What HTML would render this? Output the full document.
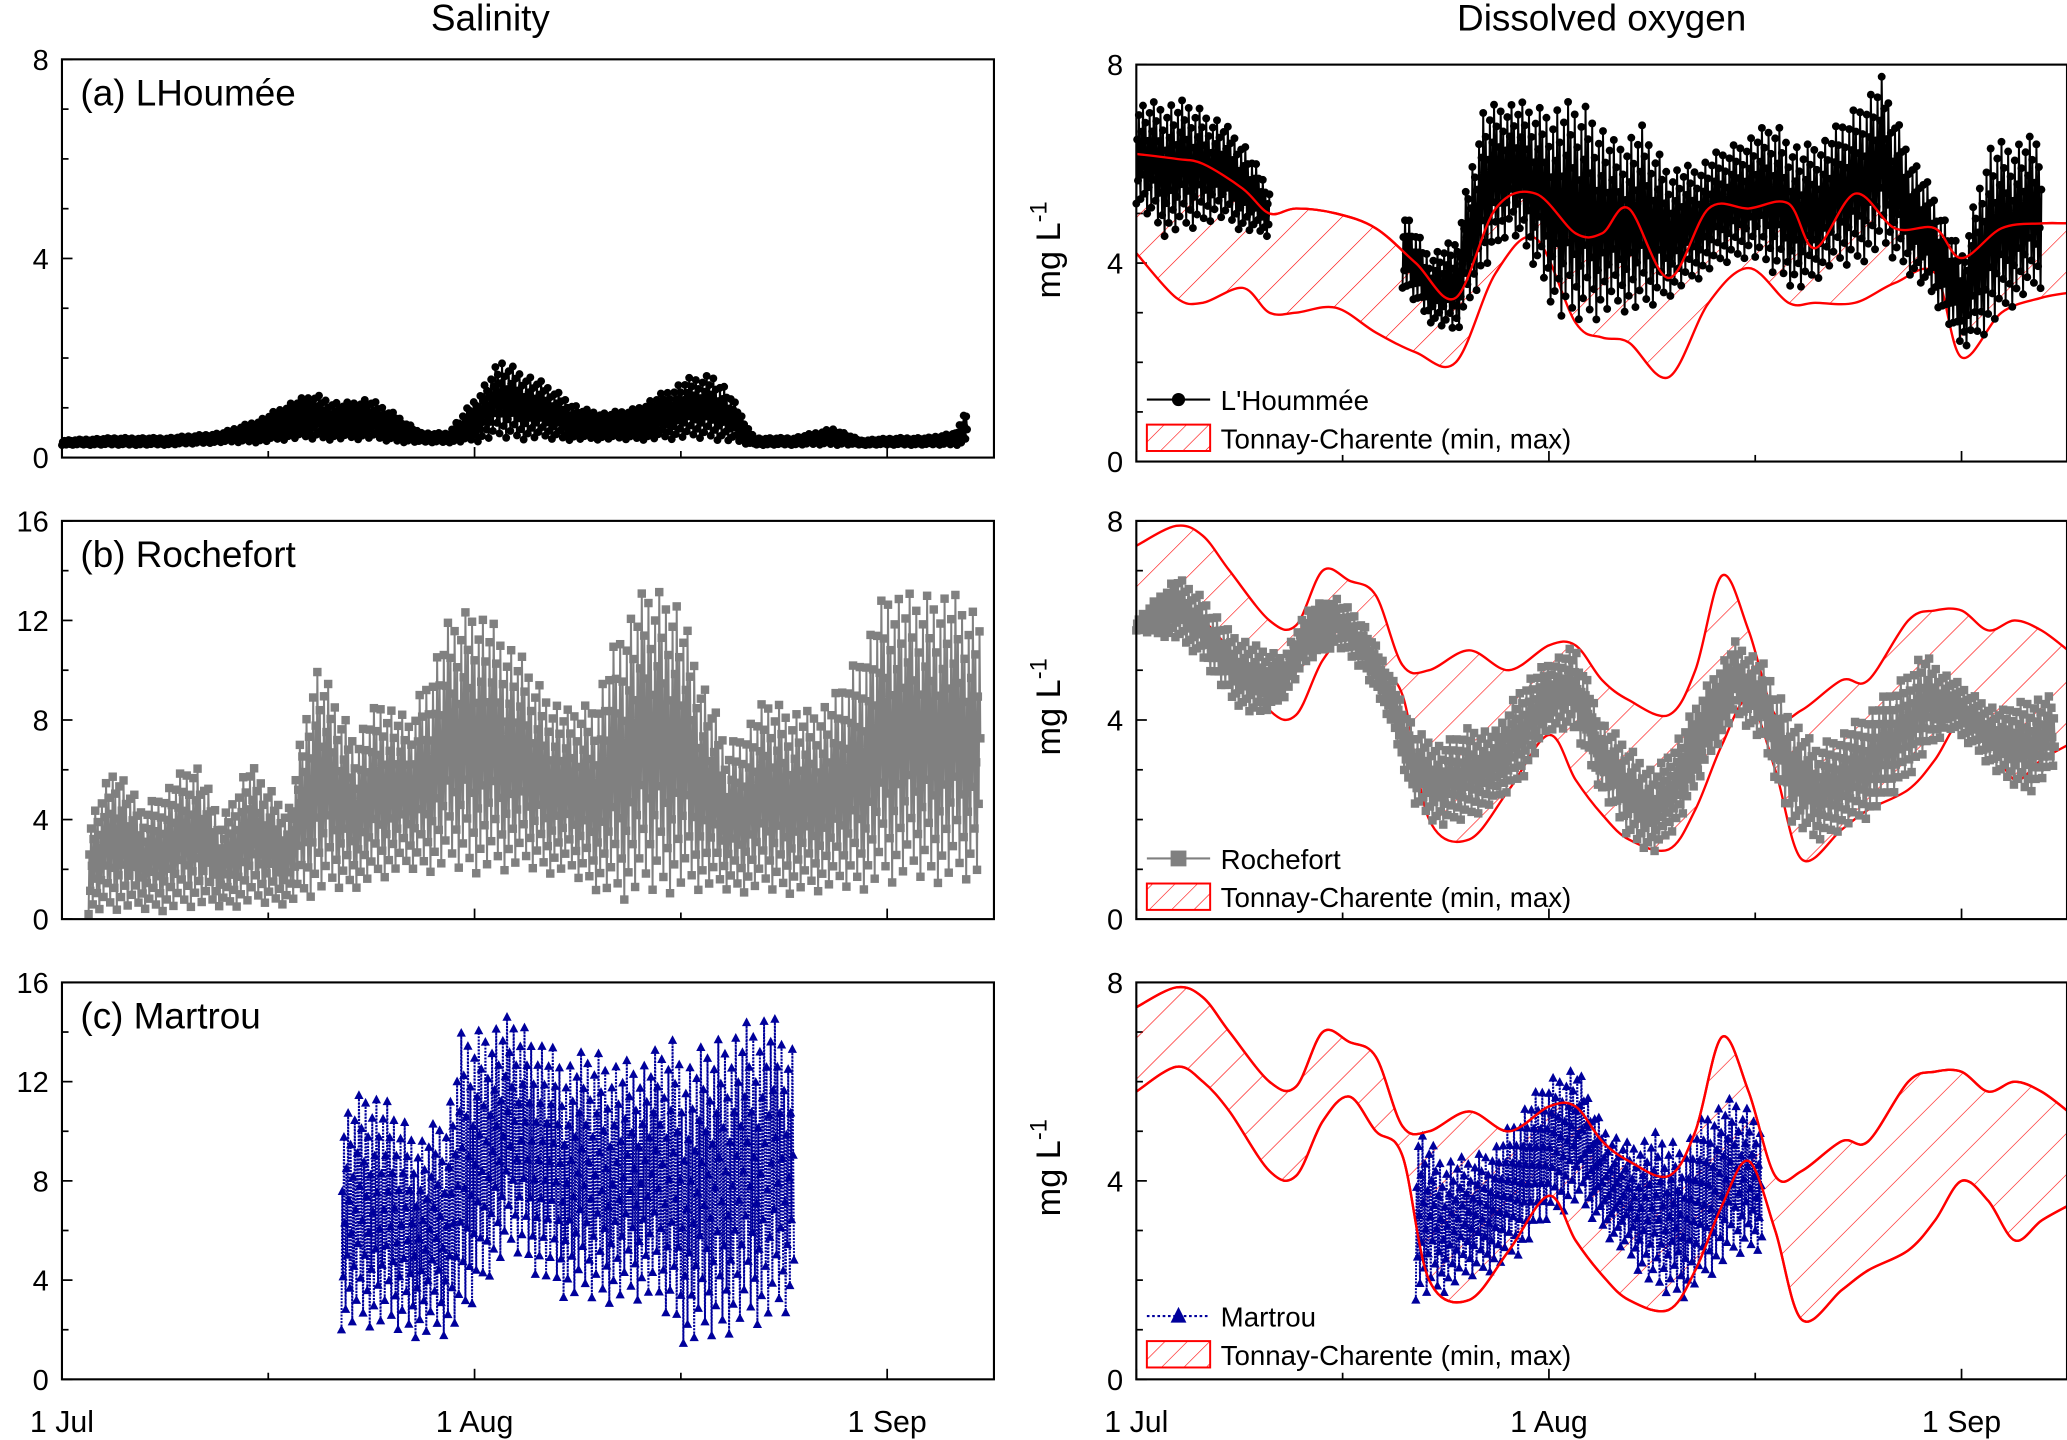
<!DOCTYPE html>
<html><head><meta charset="utf-8"><style>
html,body{margin:0;padding:0;background:#fff;}
svg{display:block;font-family:"Liberation Sans",Arial,sans-serif;}
</style></head><body>
<svg id="fig" width="2067" height="1440" viewBox="0 0 1568 1092" preserveAspectRatio="none" xmlns="http://www.w3.org/2000/svg">
<defs>
<pattern id="hatch" patternUnits="userSpaceOnUse" width="22" height="22" patternTransform="rotate(45)">
<line x1="0" y1="0" x2="0" y2="22" stroke="#ff0000" stroke-width="0.9"/>
</pattern>
<pattern id="hatchL" patternUnits="userSpaceOnUse" width="12" height="12" patternTransform="rotate(45)">
<line x1="0" y1="0" x2="0" y2="12" stroke="#ff0000" stroke-width="0.9"/>
</pattern>
</defs>
<text x="372" y="23" font-size="28" text-anchor="middle">Salinity</text>
<text x="1215" y="23" font-size="28" text-anchor="middle">Dissolved oxygen</text>
<g id="plots"></g>
</svg>
<script>
// ---- data (day index from 1 Jul) ----
const xTickLabels = ["1 Jul", "1 Aug", "1 Sep"];
const xTickDays = [0, 31, 62];
const salTicksA = [0, 4, 8];
const salTicksBC = [0, 4, 8, 12, 16];
const doTicks = [0, 4, 8];

const salA_days = [0,4,8,12,15,17,19,21,23,25,27,29,31,33,35,37,39,41,43,45,47,49,50,52,55,58,60,63,65,67,68];
const salA_max  = [0.35,0.4,0.4,0.5,0.8,1.1,1.3,1.1,1.2,0.9,0.5,0.5,1.2,2.0,1.7,1.4,1.0,0.9,1.0,1.3,1.6,1.7,1.4,0.4,0.4,0.6,0.35,0.4,0.4,0.5,1.0];
const salA_min  = [0.25,0.25,0.25,0.3,0.3,0.35,0.35,0.35,0.35,0.3,0.3,0.3,0.3,0.35,0.35,0.35,0.35,0.35,0.35,0.35,0.35,0.35,0.3,0.25,0.25,0.25,0.25,0.25,0.25,0.25,0.25];

const salB_days = [2,4,6,8,10,12,14,17,19,22,24,26,29,31,34,36,38,40,42,44,46,48,50,53,56,58,60,62,64,66,69];
const salB_max  = [4,6.4,4.5,5.5,6.5,4,6.4,4.5,10.5,7.5,9,8,12,13,11,9.5,8.5,9,12,13.5,13.5,10,7,9,8.5,9,11,13.5,13,13.5,12.5];
const salB_min  = [0.2,0.3,0.3,0.3,0.4,0.4,0.5,0.6,0.8,1.2,1.5,1.8,1.8,1.8,1.8,1.8,1.7,1.2,0.6,0.8,1.0,1.0,1.0,1.0,1.0,1.0,1.1,1.2,1.3,1.3,1.3];

const salC_days = [21,23,25,27,29,30,32,34,36,38,40,42,44,46,47,49,51,53,55];
const salC_max  = [11,12,11,10,11,14,14.5,14.8,14,13,13.5,13,13,14,13,14,14.5,15,13.5];
const salC_min  = [2,2,1.8,1.6,1.6,1.8,4,5,4,3,3,3,3,2,1,1.5,2,2,2.5];

const doA_days = [0,2,4,6,8,10,20,22,24,26,28,30,32,34,36,38,40,42,44,46,48,50,52,54,56,58,60,62,64,66,68];
const doA_max  = [7.3,7.3,7.3,7,6.5,5.5,5.2,4.2,4.5,7.2,7.3,7.2,7.3,7.3,6.5,6.8,6,6,6.3,6.6,6.9,6.4,6.6,7.2,7.8,6.4,5.4,4.2,6.5,6.5,6.6];
const doA_min  = [5.2,4.5,4.6,4.9,4.6,4.5,3.5,2.8,2.5,3.7,4.6,3.8,2.7,2.8,3.0,2.9,3.3,3.6,3.9,4.1,3.7,3.4,3.8,3.9,4.2,3.8,3.2,2.2,2.6,3.1,3.4];
const tcA_days = [0,3,5,8,10,12,15,18,21,24,27,30,33,35,37,40,43,46,49,51,54,57,60,62,65,68,70];
const tcA_max  = [6.2,6.1,6.0,5.5,5.0,5.1,5.0,4.7,4.0,3.3,5.1,5.4,4.6,4.6,5.1,3.7,5.1,5.1,5.2,4.3,5.4,4.7,4.7,4.1,4.7,4.8,4.8];
const tcA_min  = [4.2,3.3,3.2,3.5,3.0,3.0,3.1,2.6,2.2,2.0,3.8,4.5,2.8,2.5,2.4,1.7,3.2,3.9,3.2,3.2,3.2,3.6,3.8,2.1,3.0,3.3,3.4];

const tc_days = [0,3,5,7,10,12,14,16,18,20,22,25,28,31,33,35,37,40,42,44,46,48,50,53,55,58,60,62,64,66,68,70];
const tc_max  = [7.5,7.9,7.7,7.0,6.0,5.9,7.0,6.8,6.5,5.1,5.0,5.4,5.0,5.5,5.5,4.8,4.4,4.1,5.0,6.9,5.8,4.1,4.2,4.8,4.8,6.0,6.2,6.2,5.8,6.0,5.8,5.4];
const tc_min  = [5.8,6.3,6.0,5.4,4.2,4.1,5.2,5.7,5.0,4.5,2.0,1.6,2.6,3.7,2.8,2.1,1.6,1.4,2.2,3.5,4.4,3.0,1.2,1.8,2.2,2.6,3.2,4.0,3.6,2.8,3.2,3.5];

const doB_days = [0,3,5,7,9,11,13,15,17,19,21,23,25,27,29,31,33,35,37,39,41,43,45,47,49,51,53,55,57,59,61,63,65,67,69];
const doB_max  = [6.0,6.9,6.5,5.8,5.5,5.3,6.3,6.5,6.0,5.0,3.8,3.5,3.9,3.8,4.8,5.2,5.5,4.0,3.5,3.0,3.8,4.8,5.6,5.2,4.2,3.5,3.8,4.2,4.7,5.4,4.9,4.5,4.2,4.5,4.5];
const doB_min  = [5.8,5.6,5.2,4.4,4.0,4.4,5.2,5.5,5.0,4.0,2.2,1.8,2.0,2.3,2.8,3.8,3.7,2.5,1.6,1.3,2.0,3.2,4.1,3.5,2.0,1.5,1.8,2.0,2.5,3.2,3.8,3.4,2.8,2.5,3.0];

const doC_days = [21,23,25,27,29,31,33,35,37,39,41,43,45,47];
const doC_max  = [5.3,4.5,4.5,4.8,5.5,6.1,6.4,5.2,4.8,5.0,4.8,5.5,5.7,5.3];
const doC_min  = [1.6,1.7,2.0,2.2,2.5,3.2,3.5,3.0,2.4,1.7,1.6,2.0,2.4,2.6];

// ---- drawing ----
const NS = "http://www.w3.org/2000/svg";
const root = document.getElementById('plots');
const PX_DAY = 313/31;
function phase(k){ const f = (k*0.6180339887) % 1; return f; }
function mk(tag, attrs, parent){
  const e = document.createElementNS(NS, tag);
  for (const k in attrs) e.setAttribute(k, attrs[k]);
  (parent||root).appendChild(e); return e;
}
function lerp(days, vals, d){
  if (d <= days[0]) return vals[0];
  for (let i=1;i<days.length;i++){ if (d <= days[i]){ const t=(d-days[i-1])/(days[i]-days[i-1]); return vals[i-1]+t*(vals[i]-vals[i-1]); } }
  return vals[vals.length-1];
}
function panel(name, x0, x1, y0, y1, ymax, ticks, minorStep){
  const g = mk('g', {});
  
  
  const xs = d => x0 + d*PX_DAY;
  const ys = v => y1 - v/ymax*(y1-y0);
  for (let v=0; v<=ymax+1e-6; v+=minorStep){
    const major = ticks.some(t => Math.abs(t-v)<1e-6);
    mk('line',{x1:x0,x2:x0+(major?8:5),y1:ys(v),y2:ys(v),stroke:'#000','stroke-width':1.3},g);
  }
  ticks.forEach(t=>{
    const tx = mk('text',{x:x0-10,y:ys(t)+8,'font-size':22,'text-anchor':'end'},g);
    
    
    tx.textContent = t;
  });
  for (let d=0; x0+d*PX_DAY<=x1; d+=15.5){
    const major = xTickDays.some(t=>Math.abs(t-d)<0.1);
    mk('line',{x1:xs(d),x2:xs(d),y1:y1,y2:y1-(major?8:5),stroke:'#000','stroke-width':1.3},g);
  }
  return {g, xs, ys, x0, x1, y0, y1};
}
function frame(p){
  const r = mk('rect',{x:p.x0,y:p.y0,width:p.x1-p.x0,height:p.y1-p.y0,fill:'none',stroke:'#000','stroke-width':1.6},p.g);
  
  
}
function tidal(p, days, maxs, mins, color, marker, name, dash){
  const g = mk('g',{},p.g);
  
  
  const pts = [];
  const dStart = days[0], dEnd = days[days.length-1];
  let k = 0;
  for (let d=dStart; d<=dEnd+1e-6; d+=1/16, k++){
    const hi = lerp(days,maxs,d), lo = lerp(days,mins,d);
    const v = lo + (hi-lo)*phase(k);
    pts.push([p.xs(d), p.ys(v)]);
  }
  const pl = mk('polyline',{points:pts.map(q=>q.join(',')).join(' '),fill:'none',stroke:color,'stroke-width':1.5},g);
  if (dash) pl.setAttribute('stroke-dasharray','1.5,1');
  
  
  pts.forEach(q=>{
    if (marker==='circle') mk('circle',{cx:q[0],cy:q[1],r:3,fill:color},g);
    else if (marker==='square') mk('rect',{x:q[0]-3.2,y:q[1]-3.2,width:6.4,height:6.4,fill:color},g);
    else mk('polygon',{points:`${q[0]},${q[1]-3.8} ${q[0]-3.5},${q[1]+2.8} ${q[0]+3.5},${q[1]+2.8}`,fill:color},g);
  });
}
function smoothPath(pts){
  let d = `M${pts[0][0]},${pts[0][1]}`;
  for (let i=0;i<pts.length-1;i++){
    const p0=pts[Math.max(0,i-1)],p1=pts[i],p2=pts[i+1],p3=pts[Math.min(pts.length-1,i+2)];
    const c1=[p1[0]+(p2[0]-p0[0])/6,p1[1]+(p2[1]-p0[1])/6];
    const c2=[p2[0]-(p3[0]-p1[0])/6,p2[1]-(p3[1]-p1[1])/6];
    d+=` C${c1[0]},${c1[1]} ${c2[0]},${c2[1]} ${p2[0]},${p2[1]}`;
  }
  return d;
}
function band(p, days, maxs, mins){
  const g = mk('g',{},p.g);
  
  
  const top = days.map((d,i)=>[p.xs(d),p.ys(maxs[i])]);
  const bot = days.map((d,i)=>[p.xs(d),p.ys(mins[i])]);
  const botRev = bot.slice().reverse();
  const fillD = smoothPath(top) + ' L' + botRev[0].join(',') + smoothPath(botRev).slice(1).replace(/^[^C]*/,'') + ' Z';
  const area = mk('path',{d:fillD,fill:'url(#hatch)',stroke:'none'},g);
  
  
  const l1 = mk('path',{d:smoothPath(top),fill:'none',stroke:'#ff0000','stroke-width':1.8},g);
  
  
  const l2 = mk('path',{d:smoothPath(bot),fill:'none',stroke:'#ff0000','stroke-width':1.8},g);
  
  
}
function label(p, text, name){
  const t = mk('text',{x:p.x0+14,y:p.y0+35,'font-size':28},p.g);
  
  
  t.textContent = text;
}
function unitLabel(p){
  const cy = (p.y0+p.y1)/2 - 10;
  const t = mk('text',{x:0,y:0,'font-size':26,transform:`translate(804,${cy}) rotate(-90)`,'text-anchor':'middle'},p.g);
  
  
  t.innerHTML = 'mg L<tspan dy="-10" font-size="18">-1</tspan>';
}
function legend(p, y, color, marker, text, dash){
  const g = mk('g',{},p.g);
  
  
  const ln = mk('line',{x1:870,x2:918,y1:y,y2:y,stroke:color,'stroke-width':1.6},g);
  if (dash) ln.setAttribute('stroke-dasharray','2,2');
  if (marker==='circle') mk('circle',{cx:894,cy:y,r:5,fill:color},g);
  else if (marker==='square') mk('rect',{x:888,y:y-6,width:12,height:12,fill:color},g);
  else mk('polygon',{points:`894,${y-7} 888,${y+5} 900,${y+5}`,fill:color},g);
  const t1 = mk('text',{x:926,y:y+8,'font-size':21},g);
  
  
  t1.textContent = text;
  const y2 = y+29;
  mk('rect',{x:870,y:y2-10,width:48,height:20,fill:'url(#hatchL)',stroke:'#ff0000','stroke-width':1.5},g);
  const t2 = mk('text',{x:926,y:y2+8,'font-size':21},g);
  
  
  t2.textContent = 'Tonnay-Charente (min, max)';
}

const pa = panel('salinity-panel-a',47,754,45,347,8,salTicksA,1);
tidal(pa,salA_days,salA_max,salA_min,'#000','circle','lhoumee-salinity');
label(pa,'(a) LHoumée','panel-a-label'); frame(pa);
const pb = panel('salinity-panel-b',47,754,395,697,16,salTicksBC,2);
tidal(pb,salB_days,salB_max,salB_min,'#808080','square','rochefort-salinity');
label(pb,'(b) Rochefort','panel-b-label'); frame(pb);
const pc = panel('salinity-panel-c',47,754,745,1046,16,salTicksBC,2);
tidal(pc,salC_days,salC_max,salC_min,'#00009c','triangle','martrou-salinity',true);
label(pc,'(c) Martrou','panel-c-label'); frame(pc);

const ra = panel('do-panel-a',862,1568,49,350,8,doTicks,1);
band(ra,tcA_days,tcA_max,tcA_min);
tidal(ra,doA_days.slice(0,6),doA_max.slice(0,6),doA_min.slice(0,6),'#000','circle','lhoumee-do-1');
tidal(ra,doA_days.slice(6),doA_max.slice(6),doA_min.slice(6),'#000','circle','lhoumee-do-2');
mk('path',{d:smoothPath(tcA_days.map((d,i)=>[ra.xs(d),ra.ys(tcA_max[i])])),fill:'none',stroke:'#ff0000','stroke-width':1.8},ra.g);
unitLabel(ra); legend(ra,303,'#000','circle',"L'Hoummée"); frame(ra);

const rb = panel('do-panel-b',862,1568,395,697,8,doTicks,1);
band(rb,tc_days,tc_max,tc_min);
tidal(rb,doB_days,doB_max,doB_min,'#808080','square','rochefort-do');
unitLabel(rb); legend(rb,651,'#808080','square','Rochefort'); frame(rb);

const rc = panel('do-panel-c',862,1568,745,1046,8,doTicks,1);
band(rc,tc_days,tc_max,tc_min);
tidal(rc,doC_days,doC_max,doC_min,'#00009c','triangle','martrou-do',true);
mk('path',{d:smoothPath(tc_days.map((d,i)=>[rc.xs(d),rc.ys(tc_max[i])])),fill:'none',stroke:'#ff0000','stroke-width':1.8},rc.g);
mk('path',{d:smoothPath(tc_days.map((d,i)=>[rc.xs(d),rc.ys(tc_min[i])])),fill:'none',stroke:'#ff0000','stroke-width':1.8},rc.g);
unitLabel(rc); legend(rc,998,'#00009c','triangle','Martrou',true); frame(rc);

[47,862].forEach(x0=>{
  xTickDays.forEach((d,i)=>{
    const t = mk('text',{x:x0+d*PX_DAY,y:1086,'font-size':23,'text-anchor':'middle'});
    
    
    t.textContent = xTickLabels[i];
  });
});
</script>
</body></html>
